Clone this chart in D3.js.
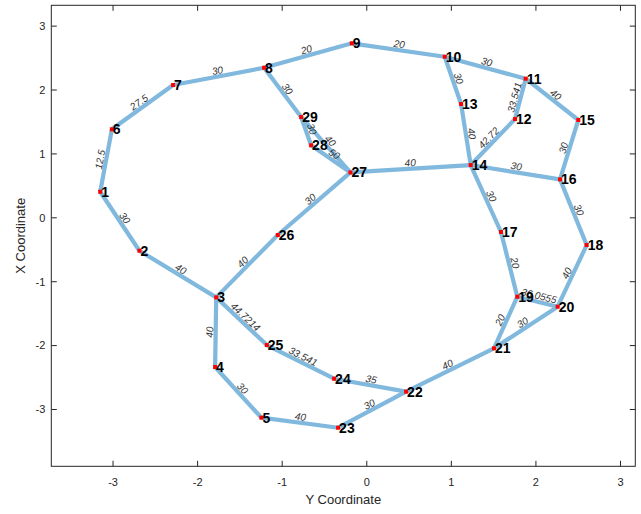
<!DOCTYPE html>
<html><head><meta charset="utf-8">
<script src="https://cdn.jsdelivr.net/npm/d3@7"></script>
<style>body{margin:0;background:#fff}svg{display:block}</style>
</head><body>
<svg id="c" width="641" height="514"></svg>
<script>
// node ids and coordinates (x = horizontal "Y Coordinate", y = vertical "X Coordinate")
const nodeIds = ["1","2","3","4","5","6","7","8","9","10","11","12","13","14","15","16","17","18","19","20","21","22","23","24","25","26","27","28","29"];
const nodeX = [-3.152,-2.688,-1.78,-1.793,-1.246,-3.014,-2.29,-1.214,-0.177,0.922,1.879,1.753,1.115,1.229,2.501,2.285,1.587,2.6,1.78,2.257,1.504,0.465,-0.339,-0.386,-1.182,-1.052,-0.193,-0.658,-0.776];
const nodeY = [0.408,-0.515,-1.245,-2.335,-3.128,1.385,2.078,2.349,2.731,2.521,2.177,1.546,1.781,0.826,1.531,0.602,-0.222,-0.426,-1.235,-1.391,-2.043,-2.721,-3.285,-2.518,-1.991,-0.269,0.71,1.135,1.577];
const edgeSource = [1,6,7,8,9,10,10,11,11,12,13,14,15,14,14,16,17,18,19,19,20,21,22,22,23,5,4,3,25,3,26,27,27,28,8,1,2];
const edgeTarget = [6,7,8,9,10,11,13,12,15,14,14,16,16,27,17,18,19,20,20,21,21,22,24,23,5,4,3,25,24,26,27,28,29,29,29,2,3];
const edgeWeight = ["12.5","27.5","30","20","20","30","30","33.541","40","42.72","40","30","30","40","30","30","20","40","36.0555","20","30","40","35","30","40","30","40","44.7214","33.541","40","30","50","40","30","30","30","40"];
const xTicks = [-3,-2,-1,0,1,2,3];
const yTicks = [-3,-2,-1,0,1,2,3];

const svg = d3.select("#c");
const L=51.3, R=635.3, T=5.3, B=466.3;
const x = d3.scaleLinear().domain([-3.73,3.175]).range([L,R]);
const y = d3.scaleLinear().domain([-3.889,3.326]).range([B,T]);
const axisColor="#262626";

// edges
const g = svg.append("g");
edgeSource.forEach((s,i)=>{
  const t=edgeTarget[i];
  g.append("line")
    .attr("x1",x(nodeX[s-1])).attr("y1",y(nodeY[s-1]))
    .attr("x2",x(nodeX[t-1])).attr("y2",y(nodeY[t-1]))
    .attr("stroke","#80B8DE").attr("stroke-width",4.2).attr("stroke-linecap","butt");
});
// edge labels
edgeSource.forEach((s,i)=>{
  const t=edgeTarget[i];
  const x1=x(nodeX[s-1]),y1=y(nodeY[s-1]),x2=x(nodeX[t-1]),y2=y(nodeY[t-1]);
  let a=Math.atan2(y2-y1,x2-x1)*180/Math.PI;
  if(a>90)a-=180; if(a<-90)a+=180;
  g.append("text")
    .attr("transform",`translate(${(x1+x2)/2},${(y1+y2)/2}) rotate(${a})`)
    .attr("dy",-2.5).attr("text-anchor","middle")
    .attr("font-family","Liberation Sans, Arial, sans-serif").attr("font-style","italic")
    .attr("font-size",10).attr("fill","#333").text(edgeWeight[i]);
});
// node markers
nodeIds.forEach((id,i)=>{
  g.append("rect").attr("x",x(nodeX[i])-2).attr("y",y(nodeY[i])-2)
   .attr("width",4).attr("height",4).attr("fill","#ff0000");
});
// node labels
nodeIds.forEach((id,i)=>{
  g.append("text").attr("x",x(nodeX[i])+1).attr("y",y(nodeY[i])).attr("dy","0.36em")
   .attr("font-family","Liberation Sans, Arial, sans-serif").attr("font-weight","bold")
   .attr("font-size",14).attr("fill","#000").text(id);
});

// box & ticks
const ax = svg.append("g");
ax.append("rect").attr("x",L).attr("y",T).attr("width",R-L).attr("height",B-T)
  .attr("fill","none").attr("stroke",axisColor).attr("stroke-width",1);
const tl=5.5;
xTicks.forEach(v=>{
  const px=x(v);
  ax.append("line").attr("x1",px).attr("x2",px).attr("y1",B).attr("y2",B-tl).attr("stroke",axisColor);
  ax.append("line").attr("x1",px).attr("x2",px).attr("y1",T).attr("y2",T+tl).attr("stroke",axisColor);
  ax.append("text").attr("x",px).attr("y",B+20).attr("text-anchor","middle")
    .attr("font-family","Liberation Sans, Arial, sans-serif").attr("font-size",11).attr("fill",axisColor).text(v);
});
yTicks.forEach(v=>{
  const py=y(v);
  ax.append("line").attr("x1",L).attr("x2",L+tl).attr("y1",py).attr("y2",py).attr("stroke",axisColor);
  ax.append("line").attr("x1",R).attr("x2",R-tl).attr("y1",py).attr("y2",py).attr("stroke",axisColor);
  ax.append("text").attr("x",L-6).attr("y",py).attr("dy","0.35em").attr("text-anchor","end")
    .attr("font-family","Liberation Sans, Arial, sans-serif").attr("font-size",11).attr("fill",axisColor).text(v);
});
ax.append("text").attr("x",(L+R)/2).attr("y",504).attr("text-anchor","middle")
  .attr("font-family","Liberation Sans, Arial, sans-serif").attr("font-size",13).attr("fill",axisColor).text("Y Coordinate");
ax.append("text").attr("transform",`translate(25,${(T+B)/2}) rotate(-90)`).attr("text-anchor","middle")
  .attr("font-family","Liberation Sans, Arial, sans-serif").attr("font-size",13).attr("fill",axisColor).text("X Coordinate");
</script>
</body></html>
